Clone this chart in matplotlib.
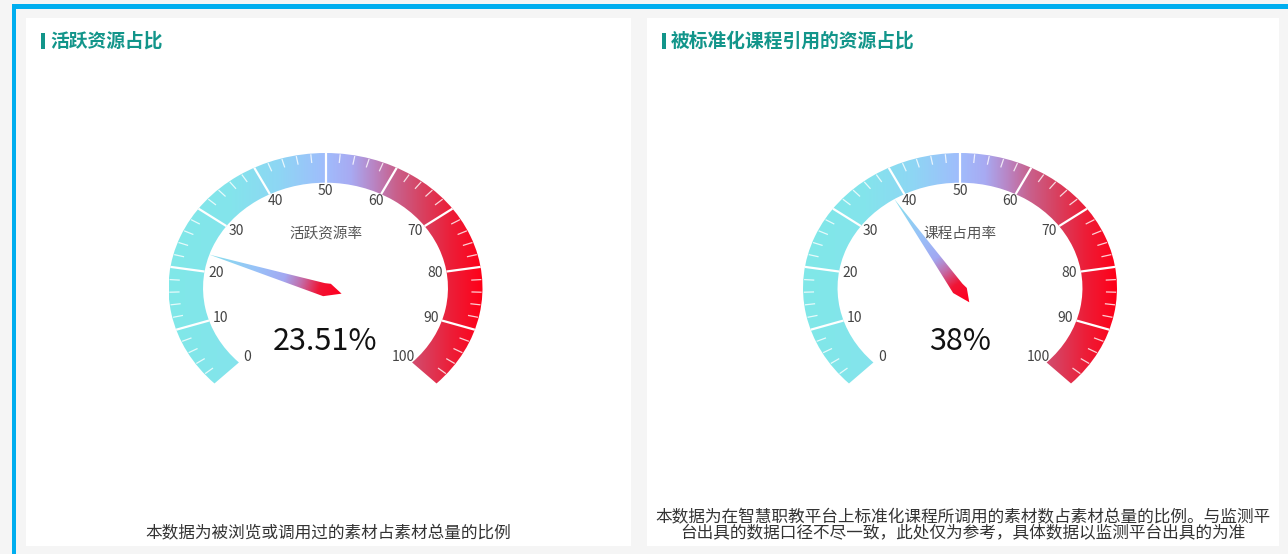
import numpy as np
import matplotlib
matplotlib.use("Agg")
import matplotlib.pyplot as plt
from matplotlib.patches import Rectangle, Wedge, Polygon
from matplotlib.colors import LinearSegmentedColormap, Normalize

plt.rcParams['font.family'] = ['Noto Sans CJK SC', 'DejaVu Sans']

# ---------------- data ----------------
panel_titles = ["活跃资源占比", "被标准化课程引用的资源占比"]
gauge_names = ["活跃资源率", "课程占用率"]
gauge_values = [23.51, 38]
value_labels = ["23.51%", "38%"]
axis_min, axis_max = 0, 100
major_ticks = [0, 10, 20, 30, 40, 50, 60, 70, 80, 90, 100]
tick_labels = ["0", "10", "20", "30", "40", "50", "60", "70", "80", "90", "100"]
minor_step = 2
notes = [
    ["本数据为被浏览或调用过的素材占素材总量的比例"],
    ["本数据为在智慧职教平台上标准化课程所调用的素材数占素材总量的比例。与监测平",
     "台出具的数据口径不尽一致，此处仅为参考，具体数据以监测平台出具的为准"],
]

# ---------------- layout ----------------
W, H = 1288, 554
fig = plt.figure(figsize=(W / 100, H / 100), dpi=100)
fig.patch.set_facecolor('#f5f5f5')
bg = fig.add_axes([0, 0, 1, 1])
bg.set_xlim(0, W)
bg.set_ylim(H, 0)
bg.axis('off')

BLUE = '#00aeef'
TEAL = '#12958a'
bg.add_patch(Rectangle((12, 4), W - 12, 4.5, color=BLUE, lw=0))
bg.add_patch(Rectangle((12, 4), 4.5, H - 4, color=BLUE, lw=0))

panels = [(26, 18, 605, 528), (647, 18, 632, 528)]
for (x, y, w, h) in panels:
    bg.add_patch(Rectangle((x, y), w, h, color='white', lw=0))

title_x = [41, 662]
for tx, t in zip(title_x, panel_titles):
    bg.add_patch(Rectangle((tx, 32.5), 4, 16, color=TEAL, lw=0))
    bg.text(tx + 9, 41, t, fontsize=13.5, fontweight='bold', color=TEAL,
            ha='left', va='center')

note_cx = [328, 963]
for cx, lines in zip(note_cx, notes):
    n = len(lines)
    for i, line in enumerate(lines):
        y = 534 - (n - 1 - i) * 16
        bg.text(cx, y, line, fontsize=12, color='#333333', ha='center', va='center')

# ---------------- gauges ----------------
RX, RY = 157.0, 135.0
R_IN = 0.78
centers = [(325.5, 288), (960, 288)]
START, END = 225.0, -45.0

band_cmap = LinearSegmentedColormap.from_list('band', [
    (0.00, '#80e8e8'), (0.20, '#84e4ec'), (0.35, '#8ed6f4'), (0.50, '#a0bcfc'),
    (0.58, '#a8aaf2'), (0.65, '#b886c6'), (0.72, '#c8628e'), (0.80, '#d64464'),
    (0.90, '#ec1e38'), (1.00, '#ff0018')])

needle_cmap = LinearSegmentedColormap.from_list('needle', [
    (0.00, '#ff0020'), (0.15, '#f01535'), (0.29, '#c36ca8'), (0.42, '#a2a8f2'),
    (0.64, '#98c2f8'), (1.00, '#86e0ec')])


def val2ang(v):
    return START - (v - axis_min) / (axis_max - axis_min) * (START - END)


for (cx, cy), name, val, vlab in zip(centers, gauge_names, gauge_values, value_labels):
    lim = 1.25
    aw, ah = 2 * lim * RX, 2 * lim * RY
    ax = fig.add_axes([(cx - aw / 2) / W, (H - cy - ah / 2) / H, aw / W, ah / H])
    ax.axis('off')

    # gradient band
    grad = np.linspace(0, 1, 512).reshape(1, -1)
    im = ax.imshow(grad, cmap=band_cmap, extent=(-1, 1, -1, 1), aspect='auto',
                   origin='lower', interpolation='bilinear', zorder=1)
    wedge = Wedge((0, 0), 1.0, END, START, width=1 - R_IN, facecolor='none',
                  edgecolor='none')
    ax.add_patch(wedge)
    im.set_clip_path(wedge)

    # split lines
    for v in major_ticks:
        if v in (axis_min, axis_max):
            continue
        th = np.radians(val2ang(v))
        ax.plot([R_IN * np.cos(th), np.cos(th)], [R_IN * np.sin(th), np.sin(th)],
                color='white', lw=1.6, zorder=3, solid_capstyle='butt')
    # minor ticks
    for v in range(axis_min, axis_max + 1, minor_step):
        if v % 10 == 0:
            continue
        th = np.radians(val2ang(v))
        ax.plot([0.93 * np.cos(th), 0.995 * np.cos(th)],
                [0.93 * np.sin(th), 0.995 * np.sin(th)],
                color='white', lw=0.9, alpha=0.8, zorder=3, solid_capstyle='butt')
    # labels
    for v, lab in zip(major_ticks, tick_labels):
        th = np.radians(val2ang(v))
        ax.text(0.705 * np.cos(th), 0.72 * np.sin(th), lab, fontsize=10,
                color='#444444', ha='center', va='center', zorder=4)

    ax.text(0, 0.40, name, fontsize=10.5, color='#555555', ha='center',
            va='center', zorder=4)
    ax.text(0, -0.40, vlab, fontsize=22, color='#111111', ha='center',
            va='center', zorder=4)

    # needle
    th = np.radians(val2ang(val))
    d = np.array([np.cos(th) * RX, np.sin(th) * RY])
    L = 0.78 * np.linalg.norm(d)
    u = d / np.linalg.norm(d)
    p = np.array([u[1], -u[0]])  # clockwise side
    local = [(L, 0.0), (2.0, 4.5), (-4.0, 5.5), (-17.0, -1.0), (0.0, -8.5)]
    pts = []
    for (a, b) in local:
        px = a * u + b * p
        pts.append((px[0] / RX, px[1] / RY))
    poly = Polygon(pts, closed=True, facecolor='none', edgecolor='none')
    ax.add_patch(poly)
    gx = np.linspace(-lim, lim, 500)
    gy = np.linspace(-lim, lim, 500)
    GX, GY = np.meshgrid(gx, gy)
    T = (GX * RX * u[0] + GY * RY * u[1]) / L
    nim = ax.imshow(T, cmap=needle_cmap, norm=Normalize(-0.12, 1.0),
                    extent=(-lim, lim, -lim, lim), origin='lower', aspect='auto',
                    interpolation='bilinear', zorder=5)
    nim.set_clip_path(poly)

    ax.set_xlim(-lim, lim)
    ax.set_ylim(-lim, lim)

fig.savefig('out.png', dpi=100, facecolor=fig.get_facecolor())
